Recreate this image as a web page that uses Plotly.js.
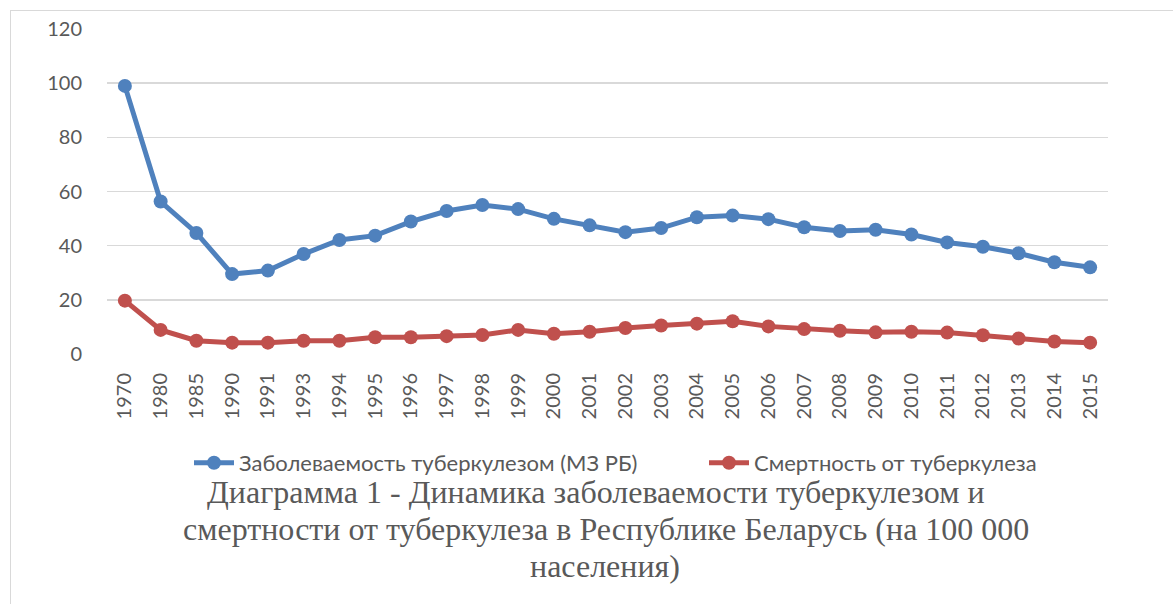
<!DOCTYPE html>
<html>
<head>
<meta charset="utf-8">
<script src="https://cdn.plot.ly/plotly-3.0.1.min.js"></script>
<style>
  html, body { margin: 0; padding: 0; background: #ffffff; overflow: hidden; }
  #chart { width: 1173px; height: 604px; position: relative; }
  #frame { position: absolute; left: 10px; top: 10px; width: 1300px; height: 800px;
           border: 1.5px solid #d9d9d9; pointer-events: none; box-sizing: border-box; }
</style>
</head>
<body>
<div id="chart"></div>
<div id="frame"></div>
<script>
// Categories (years)
const years = ['1970','1980','1985','1990','1991','1993','1994','1995','1996','1997',
               '1998','1999','2000','2001','2002','2003','2004','2005','2006','2007',
               '2008','2009','2010','2011','2012','2013','2014','2015'];

// Заболеваемость туберкулезом (МЗ РБ), на 100 000
const incidence = [99.0, 56.3, 44.7, 29.5, 30.8, 36.9, 42.1, 43.7, 48.9, 52.8,
                   55.0, 53.5, 49.9, 47.5, 45.0, 46.5, 50.5, 51.1, 49.8, 46.8,
                   45.4, 45.9, 44.1, 41.2, 39.6, 37.2, 33.9, 32.0];

// Смертность от туберкулеза, на 100 000
const mortality = [19.7, 8.9, 4.9, 4.2, 4.2, 4.9, 4.9, 6.2, 6.2, 6.6,
                   7.0, 8.9, 7.5, 8.2, 9.6, 10.5, 11.2, 12.1, 10.2, 9.2,
                   8.6, 8.0, 8.2, 7.9, 6.9, 5.7, 4.6, 4.2];

const seriesNames = ['Заболеваемость туберкулезом (МЗ РБ)', 'Смертность от туберкулеза'];
const yTicks = [0, 20, 40, 60, 80, 100, 120];
const titleLines = ['Диаграмма 1 - Динамика заболеваемости туберкулезом и',
                    'смертности от туберкулеза в Республике Беларусь (на 100 000',
                    'населения)'];

const blue = '#4f81bd';
const red = '#c0504d';

const traces = [
  {
    x: years, y: incidence, name: seriesNames[0], type: 'scatter', mode: 'lines+markers',
    line: { color: blue, width: 5 },
    marker: { color: blue, size: 14, symbol: 'circle' },
    cliponaxis: false,
    legend: 'legend'
  },
  {
    x: years, y: mortality, name: seriesNames[1], type: 'scatter', mode: 'lines+markers',
    line: { color: red, width: 5 },
    marker: { color: red, size: 14, symbol: 'circle' },
    cliponaxis: false,
    legend: 'legend2'
  }
];

const tickFont = { family: 'Lato, "Open Sans", sans-serif', size: 20, color: '#595959' };
const legendFont = { family: 'Lato, "Open Sans", sans-serif', size: 22, color: '#595959' };
const titleFont = { family: '"Liberation Serif", "DejaVu Serif", serif', size: 32, color: '#595959' };

// plot area spans pixel rows 29..354 (height 325) and columns 107..1108
const pyToPaper = py => (354 - py) / 325;
const pxToPaper = px => (px - 107) / 1001;
const titleCentersY = [492, 529, 566];
const titleCentersX = [596, 606, 605];

const annotations = titleLines.map((t, i) => ({
  text: t, showarrow: false,
  xref: 'paper', yref: 'paper',
  x: pxToPaper(titleCentersX[i]), xanchor: 'center',
  y: pyToPaper(titleCentersY[i]), yanchor: 'middle',
  font: titleFont
}));

const legendBase = {
  orientation: 'h',
  xanchor: 'left',
  y: pyToPaper(463), yanchor: 'middle',
  font: legendFont,
  bgcolor: 'rgba(0,0,0,0)',
  itemwidth: 40
};

const layout = {
  width: 1173, height: 604,
  margin: { l: 107, r: 65, t: 29, b: 250, pad: 0 },
  paper_bgcolor: '#ffffff', plot_bgcolor: '#ffffff',
  showlegend: true,
  annotations: annotations,
  xaxis: {
    type: 'category',
    range: [-0.5, years.length - 0.5],
    showgrid: false, zeroline: false, showline: false,
    ticks: 'outside', ticklen: 10, tickcolor: 'rgba(0,0,0,0)',
    tickangle: -90,
    tickfont: tickFont,
    fixedrange: true
  },
  yaxis: {
    range: [0, 120],
    tickvals: yTicks,
    ticktext: yTicks.map(String),
    showgrid: true, gridcolor: '#d9d9d9', gridwidth: 1.5,
    zeroline: false, showline: false,
    ticks: 'outside', ticklen: 20, tickcolor: 'rgba(0,0,0,0)',
    tickfont: tickFont,
    fixedrange: true
  },
  legend: Object.assign({}, legendBase, { x: pxToPaper(189) }),
  legend2: Object.assign({}, legendBase, { x: pxToPaper(704) })
};

Plotly.newPlot('chart', traces, layout, { displayModeBar: false, staticPlot: true });
</script>
</body>
</html>
